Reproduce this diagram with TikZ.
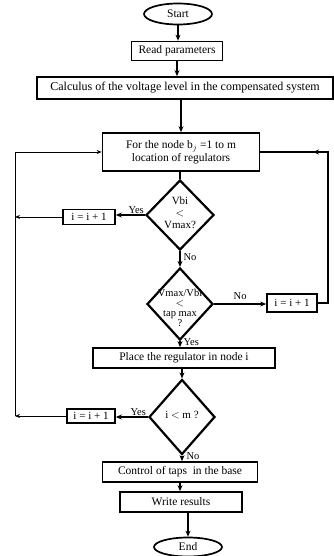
\documentclass[tikz,border=0pt]{standalone}
\usepackage{fontspec}
\setmainfont{Liberation Serif}
\usetikzlibrary{shapes.geometric,arrows.meta,decorations.markings}
\begin{document}
\begin{tikzpicture}[x=1pt,y=-1pt,
  font=\fontsize{11.5}{12}\selectfont,
  every node/.style={inner sep=1pt},
  box/.style={draw,line width=1.7pt,rectangle,align=center,minimum height=19pt},
  smallbox/.style={draw,line width=1.7pt,rectangle,align=center,minimum height=15pt,inner sep=0.5pt,font=\fontsize{11}{11}\selectfont},
  term/.style={draw,line width=1.7pt,ellipse,minimum width=68pt,minimum height=21pt},
  dec/.style={draw,line width=2.2pt,diamond,inner sep=0pt},
  dtext/.style={align=center,inner sep=0pt,font=\fontsize{10.5}{10}\selectfont},
  flow/.style={line width=1.2pt,-{Stealth[length=6pt,width=5pt]}},
  loopline/.style={line width=0.9pt},
  lbl/.style={font=\fontsize{10.5}{11}\selectfont}
]
\useasboundingbox (0,0) rectangle (334,556);

\node[term] (start) at (178,14) {Start};
\node[box,minimum width=91pt] (read) at (177,51) {Read parameters};
\node[box,minimum width=296pt,minimum height=22pt,font=\fontsize{12}{13}\selectfont] (calc) at (185,88) {Calculus of the voltage level in the compensated system};
\node[box,minimum width=157pt,minimum height=38pt] (for) at (181,152) {For the node b$_j$ =1 to m\\[1pt]location of regulators};
\node[dec,minimum width=68pt,minimum height=70pt] (d1) at (180,215) {};
\node[dtext,font=\fontsize{11}{12}\selectfont] (t1) at (180,213) {Vbi\\$<$\\Vmax?};
\node[smallbox,minimum width=52pt] (inc1) at (89,217) {i = i + 1};
\node[dec,minimum width=66pt,minimum height=72pt] (d2) at (180,304) {};
\node[dtext] (t2) at (180,308) {Vmax/Vbi\\$<$\\tap max\\?};
\node[smallbox,minimum width=50pt,minimum height=18pt] (inc2) at (292,303) {i = i + 1};
\node[box,minimum width=182pt,minimum height=20pt] (place) at (184,358) {Place the regulator in node i};
\node[dec,minimum width=66pt,minimum height=75pt] (d3) at (182,417) {};
\node[dtext,font=\fontsize{11}{12}\selectfont] (t3) at (182,415) {i $<$ m ?};
\node[smallbox,minimum width=48pt,minimum height=14pt] (inc3) at (91,416) {i = i + 1};
\node[box,minimum width=155pt,minimum height=20pt] (ctrl) at (180,472) {Control of taps \ in the base};
\node[box,minimum width=122pt,minimum height=20pt] (write) at (181,502) {Write results};
\node[term,minimum height=19pt] (end) at (188,547) {End};

\coordinate (lt) at (15,152);
\coordinate (lb1) at (15,217);
\coordinate (lb3) at (15,416);
\coordinate (rt) at (328,152);
\coordinate (rb) at (328,303);

% main flow
\draw[flow] (start.south) -- (start.south |- read.north);
\draw[flow] (read.south) -- (read.south |- calc.north);
\draw[flow] (calc.south -| for.north) -- (for.north);
\draw[line width=1.2pt] (for.south -| d1.north) -- (d1.north);
\draw[flow] (d1.south) -- node[lbl,right=2pt,pos=0.35] {No} (d2.north);
\draw[flow] (d2.south) -- node[lbl,right=2pt,pos=0.2] {Yes} (d2.south |- place.north);
\draw[flow] (place.south -| d3.north) -- (d3.north);
\draw[flow] (d3.south) -- node[lbl,right=3pt,pos=0.1] {No} (d3.south |- ctrl.north);
\draw[flow] (ctrl.south) -- (ctrl.south |- write.north);
\draw[flow] (write.south -| end.north) -- (end.north);

% yes / no branches
\draw[flow] (d1.west) -- node[lbl,above,pos=0.3] {Yes} (d1.west -| inc1.east);
\draw[flow] (d3.west) -- node[lbl,above,pos=0.3] {Yes} (d3.west -| inc3.east);
\draw[flow] (d2.east) -- node[lbl,above=3pt,pos=0.5] {No} (d2.east -| inc2.west);

% left loop back
\draw[loopline,-{Stealth[length=5pt,width=4pt]}] (inc1.west) -- (lb1);
\draw[loopline,-{Stealth[length=5pt,width=4pt]}] (inc3.west) -- (lb3);
\draw[loopline] (lb3) -- (lt);
\draw[loopline,-{Stealth[length=5pt,width=4pt]}] (lt) -- (for.west);

% right loop back
\draw[line width=1.2pt,postaction={decorate},decoration={markings,mark=at position 0.77 with {\arrow{Stealth[length=6pt,width=5pt]}}}] (inc2.east) -- (rb) -- (rt) -- (for.east);
\end{tikzpicture}
\end{document}
